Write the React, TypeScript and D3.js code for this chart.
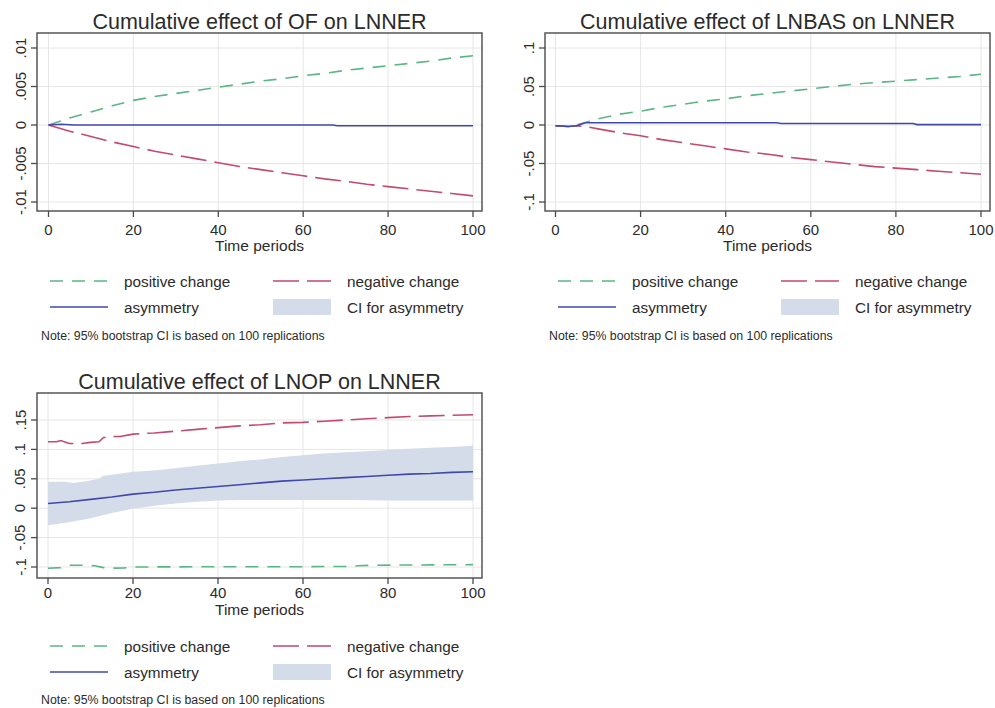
import React from "react";
import * as d3 from "d3";

type Pt = [number, number];

// Shared horizontal axis (time periods)
const xTicks = [0, 20, 40, 60, 80, 100];
const xTickLabels = ["0", "20", "40", "60", "80", "100"];

// ---- Panel 1: OF on LNNER ----
const ofTitle = "Cumulative effect of OF on LNNER";
const ofYTicks = [-0.01, -0.005, 0, 0.005, 0.01];
const ofYTickLabels = ["-.01", "-.005", "0", ".005", ".01"];
const ofPositive: Pt[] = [
  [0, 0], [5, 0.0009], [10, 0.0017], [15, 0.0025], [20, 0.0032], [25, 0.0037],
  [30, 0.0041], [35, 0.0045], [40, 0.0049], [45, 0.0053], [50, 0.0057], [55, 0.006],
  [60, 0.0064], [65, 0.0067], [70, 0.0071], [75, 0.0074], [80, 0.0077], [85, 0.008],
  [90, 0.0083], [95, 0.0087], [100, 0.009],
];
const ofNegative: Pt[] = [
  [0, 0], [5, -0.0008], [10, -0.0015], [15, -0.0022], [20, -0.0028], [25, -0.0034],
  [30, -0.0039], [35, -0.0044], [40, -0.0049], [45, -0.0054], [50, -0.0058], [55, -0.0062],
  [60, -0.0066], [65, -0.007], [70, -0.0073], [75, -0.0077], [80, -0.008], [85, -0.0083],
  [90, -0.0086], [95, -0.0089], [100, -0.0092],
];
const ofAsymmetry: Pt[] = [
  [0, 0], [3, 0.0001], [6, 0], [67, 0], [68, -0.0001], [100, -0.0001],
];

// ---- Panel 2: LNBAS on LNNER ----
const basTitle = "Cumulative effect of LNBAS on LNNER";
const basYTicks = [-0.1, -0.05, 0, 0.05, 0.1];
const basYTickLabels = ["-.1", "-.05", "0", ".05", ".1"];
const basPositive: Pt[] = [
  [0, -0.001], [3, -0.002], [5, 0], [8, 0.005], [10, 0.008], [15, 0.014], [20, 0.018],
  [25, 0.023], [30, 0.027], [35, 0.031], [40, 0.034], [45, 0.038], [50, 0.041], [55, 0.044],
  [60, 0.047], [65, 0.05], [70, 0.053], [75, 0.055], [80, 0.057], [85, 0.059], [90, 0.061],
  [95, 0.063], [100, 0.066],
];
const basNegative: Pt[] = [
  [0, -0.001], [3, -0.002], [5, -0.001], [8, -0.003], [10, -0.005], [15, -0.01], [20, -0.014],
  [25, -0.019], [30, -0.023], [35, -0.027], [40, -0.031], [45, -0.035], [50, -0.038],
  [55, -0.042], [60, -0.045], [65, -0.048], [70, -0.051], [75, -0.054], [80, -0.056],
  [85, -0.058], [90, -0.06], [95, -0.062], [100, -0.064],
];
const basAsymmetry: Pt[] = [
  [0, -0.001], [3, -0.002], [5, -0.001], [7, 0.003], [52, 0.003], [53, 0.002],
  [84, 0.002], [85, 0.0005], [100, 0.0005],
];

// ---- Panel 3: LNOP on LNNER ----
const opTitle = "Cumulative effect of LNOP on LNNER";
const opYTicks = [-0.1, -0.05, 0, 0.05, 0.1, 0.15];
const opYTickLabels = ["-.1", "-.05", "0", ".05", ".1", ".15"];
const opPositive: Pt[] = [
  [0, -0.102], [3, -0.101], [5, -0.097], [9, -0.097], [11, -0.098], [13, -0.101],
  [15, -0.102], [18, -0.1015], [20, -0.1], [40, -0.0995], [60, -0.0995], [70, -0.099],
  [73, -0.098], [76, -0.097], [100, -0.096],
];
const opNegative: Pt[] = [
  [0, 0.113], [2, 0.113], [3, 0.115], [5, 0.11], [8, 0.11], [10, 0.112], [12, 0.113],
  [13, 0.12], [15, 0.122], [17, 0.122], [20, 0.126], [25, 0.128], [30, 0.131], [35, 0.134],
  [40, 0.137], [45, 0.14], [50, 0.142], [55, 0.145], [60, 0.146], [65, 0.148], [70, 0.15],
  [75, 0.152], [80, 0.154], [85, 0.156], [90, 0.157], [95, 0.158], [100, 0.159],
];
const opAsymmetry: Pt[] = [
  [0, 0.008], [5, 0.011], [10, 0.015], [15, 0.019], [20, 0.024], [25, 0.027], [30, 0.031],
  [35, 0.034], [40, 0.037], [45, 0.04], [50, 0.043], [55, 0.046], [60, 0.048], [65, 0.05],
  [70, 0.052], [75, 0.054], [80, 0.056], [85, 0.058], [90, 0.059], [95, 0.061], [100, 0.062],
];
const opCiLower: Pt[] = [
  [0, -0.029], [5, -0.024], [10, -0.017], [15, -0.008], [20, -0.001], [25, 0.004],
  [30, 0.008], [35, 0.011], [40, 0.013], [45, 0.014], [50, 0.014], [60, 0.014],
  [70, 0.014], [80, 0.013], [90, 0.013], [100, 0.013],
];
const opCiUpper: Pt[] = [
  [0, 0.045], [4, 0.045], [6, 0.043], [9, 0.046], [12, 0.05], [13, 0.055], [15, 0.057],
  [20, 0.062], [25, 0.064], [30, 0.068], [35, 0.072], [40, 0.076], [45, 0.08], [50, 0.083],
  [55, 0.087], [60, 0.09], [65, 0.093], [70, 0.095], [75, 0.097], [80, 0.099], [85, 0.101],
  [90, 0.103], [95, 0.104], [100, 0.106],
];

const legendLabels = ["positive change", "negative change", "asymmetry", "CI for asymmetry"];
const noteText = "Note: 95% bootstrap CI is based on 100 replications";

const GREEN = "#5bb585";
const RED = "#c24a6c";
const BLUE = "#4049aa";
const CI_FILL = "#d4dcea";
const FRAME = "#4a4a4a";
const GRID = "#e6e6e6";
const TEXT = "#2b2b2b";
const FONT = "'Liberation Sans', Arial, sans-serif";
const GREEN_DASH = "13 9";
const RED_DASH = "26 8";

interface PanelProps {
  title: string;
  yTicks: number[];
  yTickLabels: string[];
  positive: Pt[];
  negative: Pt[];
  asymmetry: Pt[];
  ciLower?: Pt[];
  ciUpper?: Pt[];
  left: number; // frame left edge
  right: number;
  top: number;
  bottom: number;
  xRange: [number, number];
  yRange: [number, number]; // pixel positions of the lowest and highest y tick
  titleY: number;
  tickLabelY: number;
  axisTitleY: number;
  row1Y: number;
  row2Y: number;
  noteY: number;
}

function Panel(p: PanelProps) {
  const x = d3.scaleLinear().domain([0, 100]).range(p.xRange);
  const y = d3
    .scaleLinear()
    .domain([p.yTicks[0], p.yTicks[p.yTicks.length - 1]])
    .range(p.yRange);
  const line = d3
    .line<Pt>()
    .x((d) => x(d[0]))
    .y((d) => y(d[1]));

  let ciPath: string | null = null;
  if (p.ciLower && p.ciUpper) {
    const upper = p.ciUpper.map((d) => [x(d[0]), y(d[1])]);
    const lower = p.ciLower.map((d) => [x(d[0]), y(d[1])]).reverse();
    ciPath = "M" + [...upper, ...lower].map((d) => d.join(",")).join("L") + "Z";
  }

  const cx = (p.left + p.right) / 2;
  const k1a = p.left + 13;
  const k1b = p.left + 71;
  const t1 = p.left + 87;
  const k2a = p.left + 236;
  const k2b = p.left + 294;
  const t2 = p.left + 310;

  return (
    <g fontFamily={FONT}>
      <text x={cx} y={p.titleY} textAnchor="middle" dominantBaseline="central" fontSize={21.5} fill={TEXT}>
        {p.title}
      </text>

      {/* grid */}
      {xTicks.map((t) => (
        <line key={"gx" + t} x1={x(t)} x2={x(t)} y1={p.top} y2={p.bottom} stroke={GRID} strokeWidth={1} />
      ))}
      {p.yTicks.map((t) => (
        <line key={"gy" + t} x1={p.left} x2={p.right} y1={y(t)} y2={y(t)} stroke={GRID} strokeWidth={1} />
      ))}

      {/* series */}
      {ciPath && <path d={ciPath} fill={CI_FILL} stroke="none" />}
      <path d={line(p.positive) || ""} fill="none" stroke={GREEN} strokeWidth={1.6} strokeDasharray={GREEN_DASH} />
      <path d={line(p.negative) || ""} fill="none" stroke={RED} strokeWidth={1.6} strokeDasharray={RED_DASH} />
      <path d={line(p.asymmetry) || ""} fill="none" stroke={BLUE} strokeWidth={1.6} />

      {/* frame and axes */}
      <rect
        x={p.left}
        y={p.top}
        width={p.right - p.left}
        height={p.bottom - p.top}
        fill="none"
        stroke={FRAME}
        strokeWidth={1.4}
      />
      {xTicks.map((t, i) => (
        <g key={"xt" + t}>
          <line x1={x(t)} x2={x(t)} y1={p.bottom} y2={p.bottom + 6} stroke={FRAME} strokeWidth={1.3} />
          <text x={x(t)} y={p.tickLabelY} textAnchor="middle" dominantBaseline="central" fontSize={15} fill={TEXT}>
            {xTickLabels[i]}
          </text>
        </g>
      ))}
      {p.yTicks.map((t, i) => (
        <g key={"yt" + t}>
          <line x1={p.left - 6} x2={p.left} y1={y(t)} y2={y(t)} stroke={FRAME} strokeWidth={1.3} />
          <text
            x={p.left - 17}
            y={y(t)}
            textAnchor="middle"
            dominantBaseline="central"
            fontSize={15}
            fill={TEXT}
            transform={`rotate(-90, ${p.left - 17}, ${y(t)})`}
          >
            {p.yTickLabels[i]}
          </text>
        </g>
      ))}
      <text x={cx} y={p.axisTitleY} textAnchor="middle" dominantBaseline="central" fontSize={15.5} fill={TEXT}>
        Time periods
      </text>

      {/* legend */}
      <line x1={k1a} x2={k1b} y1={p.row1Y} y2={p.row1Y} stroke={GREEN} strokeWidth={1.6} strokeDasharray={GREEN_DASH} />
      <text x={t1} y={p.row1Y} dominantBaseline="central" fontSize={15.3} fill={TEXT}>
        {legendLabels[0]}
      </text>
      <line x1={k2a} x2={k2b} y1={p.row1Y} y2={p.row1Y} stroke={RED} strokeWidth={1.6} strokeDasharray={RED_DASH} />
      <text x={t2} y={p.row1Y} dominantBaseline="central" fontSize={15.3} fill={TEXT}>
        {legendLabels[1]}
      </text>
      <line x1={k1a} x2={k1b} y1={p.row2Y} y2={p.row2Y} stroke={BLUE} strokeWidth={1.6} />
      <text x={t1} y={p.row2Y} dominantBaseline="central" fontSize={15.3} fill={TEXT}>
        {legendLabels[2]}
      </text>
      <rect x={k2a} y={p.row2Y - 8} width={k2b - k2a} height={16} fill={CI_FILL} />
      <text x={t2} y={p.row2Y} dominantBaseline="central" fontSize={15.3} fill={TEXT}>
        {legendLabels[3]}
      </text>
      <text x={p.left + 4} y={p.noteY} dominantBaseline="central" fontSize={12.3} fill={TEXT}>
        {noteText}
      </text>
    </g>
  );
}

export default function App() {
  return (
    <svg
      width={995}
      height={708}
      viewBox="0 0 995 708"
      style={{ position: "absolute", left: 0, top: 0, background: "#fff" }}
    >
      <rect width={995} height={708} fill="#fff" />
      <Panel
        title={ofTitle}
        yTicks={ofYTicks}
        yTickLabels={ofYTickLabels}
        positive={ofPositive}
        negative={ofNegative}
        asymmetry={ofAsymmetry}
        left={37}
        right={482}
        top={33}
        bottom={211}
        xRange={[48.5, 473]}
        yRange={[202, 48]}
        titleY={22}
        tickLabelY={229}
        axisTitleY={245}
        row1Y={281}
        row2Y={307}
        noteY={336}
      />
      <Panel
        title={basTitle}
        yTicks={basYTicks}
        yTickLabels={basYTickLabels}
        positive={basPositive}
        negative={basNegative}
        asymmetry={basAsymmetry}
        left={545}
        right={990}
        top={33}
        bottom={211}
        xRange={[555.5, 981]}
        yRange={[202, 48]}
        titleY={22}
        tickLabelY={229}
        axisTitleY={245}
        row1Y={281}
        row2Y={307}
        noteY={336}
      />
      <Panel
        title={opTitle}
        yTicks={opYTicks}
        yTickLabels={opYTickLabels}
        positive={opPositive}
        negative={opNegative}
        asymmetry={opAsymmetry}
        ciLower={opCiLower}
        ciUpper={opCiUpper}
        left={37}
        right={482}
        top={393}
        bottom={578}
        xRange={[48, 473]}
        yRange={[567, 420]}
        titleY={382}
        tickLabelY={592}
        axisTitleY={609}
        row1Y={646}
        row2Y={672}
        noteY={700}
      />
    </svg>
  );
}
